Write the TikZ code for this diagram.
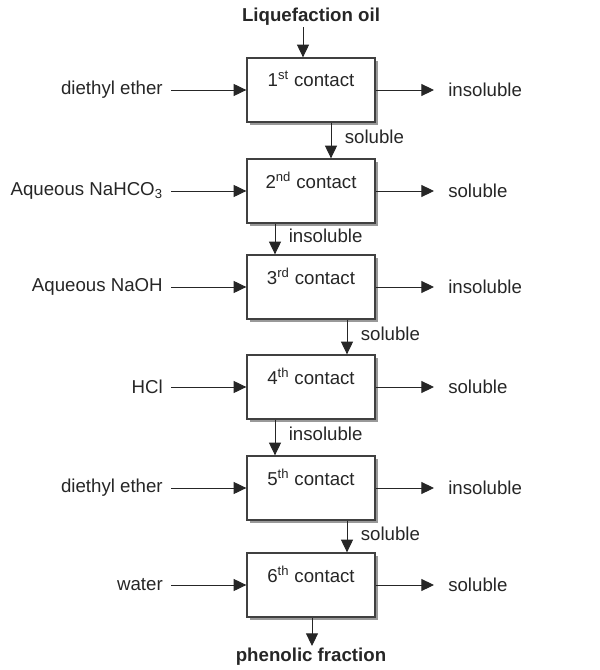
\documentclass[tikz,border=0pt]{standalone}
\usepackage{fontspec}
\setmainfont{Liberation Sans}
\usetikzlibrary{arrows.meta,calc,shadows}

\begin{document}
\begin{tikzpicture}[x=0.75pt,y=-0.75pt,>={Triangle[length=9.5pt,width=9pt]},
	every node/.style={font=\fontsize{14pt}{17pt}\selectfont,text=black!85},
	contact/.style={draw=black!75,line width=1pt,fill=white,minimum width=96pt,minimum height=48pt,inner sep=0pt,
		drop shadow={shadow xshift=2.5pt,shadow yshift=-2.5pt,fill=black!40,opacity=1}},
	feed/.style={anchor=east,inner xsep=6pt,inner ysep=0pt},
	product/.style={anchor=west,inner xsep=10.5pt,inner ysep=0pt},
	flow/.style={->,line width=0.7pt,draw=black!85},
	phase/.style={right,inner xsep=10pt,inner ysep=0pt}]

	\useasboundingbox (0,0) rectangle (599,670);

	% Draw the six contact stages
	\node[contact] (c1) at (311,90) {};
	\node[contact] (c2) at (311,191) {};
	\node[contact] (c3) at (311,287) {};
	\node[contact] (c4) at (311,387) {};
	\node[contact] (c5) at (311,488) {};
	\node[contact] (c6) at (311,585) {};

	% Stage names near the top of each box
	\node (t1) at ($(c1.north)+(0,22)$) {1\textsuperscript{st} contact};
	\node (t2) at ($(c2.north)+(0,22)$) {2\textsuperscript{nd} contact};
	\node (t3) at ($(c3.north)+(0,22)$) {3\textsuperscript{rd} contact};
	\node (t4) at ($(c4.north)+(0,22)$) {4\textsuperscript{th} contact};
	\node (t5) at ($(c5.north)+(0,22)$) {5\textsuperscript{th} contact};
	\node (t6) at ($(c6.north)+(0,22)$) {6\textsuperscript{th} contact};

	% Draw the feed and the final product
	\node[inner ysep=1pt] (oil) at (311,17) {\bfseries Liquefaction oil};
	\draw[flow] ($(oil.south)+(-8,0)$) -- ($(c1.north)+(-8,0)$);
	\node[inner ysep=1pt,anchor=north] (phen) at (311,646) {\bfseries phenolic fraction};
	\draw[flow] ($(c6.south)+(1,0)$) -- ($(phen.north)+(1,0)$);

	% Draw the solvents going in on the left
	\node[feed] (in1) at (171,90) {diethyl ether};
	\node[feed] (in2) at (171,191) {Aqueous NaHCO\textsubscript{3}};
	\node[feed] (in3) at (171,287) {Aqueous NaOH};
	\node[feed] (in4) at (171,387) {HCl};
	\node[feed] (in5) at (171,488) {diethyl ether};
	\node[feed] (in6) at (171,585) {water};
	\foreach \i in {1,...,6}
		\draw[flow] (in\i.east) -- (c\i.west);

	% Draw the phases leaving on the right
	\node[product] (out1) at (434,90) {insoluble};
	\node[product] (out2) at (434,191) {soluble};
	\node[product] (out3) at (434,287) {insoluble};
	\node[product] (out4) at (434,387) {soluble};
	\node[product] (out5) at (434,488) {insoluble};
	\node[product] (out6) at (434,585) {soluble};
	\foreach \i in {1,...,6}
		\draw[flow] (c\i.east) -- (out\i.west);

	% Draw the phases passed on to the next contact
	\draw[flow] ($(c1.south)+(20,0)$) -- ($(c2.north)+(20,0)$) node[phase,pos=0.4] (p1) {soluble};
	\draw[flow] ($(c2.south)+(-36,0)$) -- ($(c3.north)+(-36,0)$) node[phase,pos=0.4] (p2) {insoluble};
	\draw[flow] ($(c3.south)+(36,0)$) -- ($(c4.north)+(36,0)$) node[phase,pos=0.4] (p3) {soluble};
	\draw[flow] ($(c4.south)+(-36,0)$) -- ($(c5.north)+(-36,0)$) node[phase,pos=0.4] (p4) {insoluble};
	\draw[flow] ($(c5.south)+(36,0)$) -- ($(c6.north)+(36,0)$) node[phase,pos=0.4] (p5) {soluble};

\end{tikzpicture}
\end{document}
